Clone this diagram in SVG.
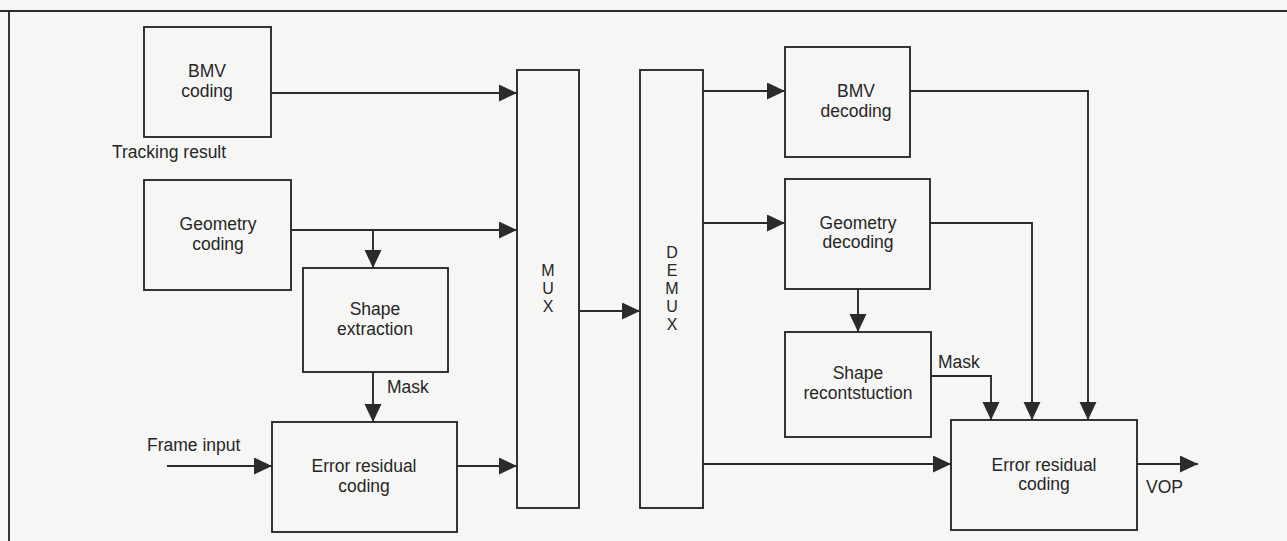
<svg xmlns="http://www.w3.org/2000/svg" width="1287" height="541" viewBox="0 0 1287 541">
<defs>
<marker id="ah" markerUnits="userSpaceOnUse" markerWidth="19" markerHeight="18" refX="18" refY="8.5" orient="auto">
<path d="M0,0 L18,8.5 L0,17 Z" fill="#2b2b2b"/>
</marker>
</defs>
<style>
.bx{fill:none;stroke:#2b2b2b;stroke-width:1.9}
.ln{fill:none;stroke:#2b2b2b;stroke-width:1.9}
.ar{fill:none;stroke:#2b2b2b;stroke-width:1.9;marker-end:url(#ah)}
text{font-family:"Liberation Sans",Arial,sans-serif;font-size:17.5px;fill:#262626;text-anchor:middle}
.l{text-anchor:start}
.v{font-size:16px}
</style>
<rect x="0" y="0" width="1287" height="541" fill="#f6f6f4"/>
<path class="ln" d="M0,11 H1287 M9,11 V541"/>

<g id="bmv-coding"><rect class="bx" x="144" y="27" width="127" height="110"/><text x="207" y="77">BMV</text><text x="207" y="97">coding</text></g>
<g id="tracking-label"><text class="l" x="112" y="158">Tracking result</text></g>
<g id="geometry-coding"><rect class="bx" x="144" y="180" width="147" height="110"/><text x="218" y="230">Geometry</text><text x="218" y="250">coding</text></g>
<g id="shape-extraction"><rect class="bx" x="303" y="268" width="145" height="104"/><text x="375" y="315">Shape</text><text x="375" y="335">extraction</text></g>
<g id="error-residual-coding-1"><rect class="bx" x="272" y="422" width="185" height="110"/><text x="364" y="472">Error residual</text><text x="364" y="492">coding</text></g>
<g id="mux"><rect class="bx" x="517" y="70" width="62" height="438"/><text class="v" x="548" y="276">M</text><text class="v" x="548" y="294">U</text><text class="v" x="548" y="312">X</text></g>
<g id="demux"><rect class="bx" x="640" y="70" width="63" height="438"/><text class="v" x="672" y="258">D</text><text class="v" x="672" y="276">E</text><text class="v" x="672" y="294">M</text><text class="v" x="672" y="312">U</text><text class="v" x="672" y="330">X</text></g>
<g id="bmv-decoding"><rect class="bx" x="785" y="47" width="125" height="110"/><text x="856" y="97">BMV</text><text x="856" y="117">decoding</text></g>
<g id="geometry-decoding"><rect class="bx" x="785" y="179" width="145" height="110"/><text x="858" y="229">Geometry</text><text x="858" y="248">decoding</text></g>
<g id="shape-reconstruction"><rect class="bx" x="785" y="332" width="146" height="105"/><text x="858" y="379">Shape</text><text x="858" y="399">recontstuction</text></g>
<g id="error-residual-coding-2"><rect class="bx" x="951" y="420" width="186" height="110"/><text x="1044" y="471">Error residual</text><text x="1044" y="490">coding</text></g>

<g id="connectors">
<path class="ar" d="M271,93 H517"/>
<path class="ar" d="M291,230 H517"/>
<path class="ar" d="M373,230 V268"/>
<path class="ar" d="M373,372 V422"/>
<path class="ar" d="M167,466 H272"/>
<path class="ar" d="M457,466 H517"/>
<path class="ar" d="M579,311 H640"/>
<path class="ar" d="M703,91 H785"/>
<path class="ar" d="M703,223 H785"/>
<path class="ar" d="M858,289 V332"/>
<path class="ar" d="M703,464 H951"/>
<path class="ar" d="M931,376 H991 V420"/>
<path class="ar" d="M930,223 H1032 V420"/>
<path class="ar" d="M910,91 H1088 V420"/>
<path class="ar" d="M1137,464 H1198"/>
<text class="l" x="387" y="393">Mask</text>
<text class="l" x="147" y="451">Frame input</text>
<text class="l" x="938" y="368">Mask</text>
<text class="l" x="1146" y="493">VOP</text>
</g>
</svg>
